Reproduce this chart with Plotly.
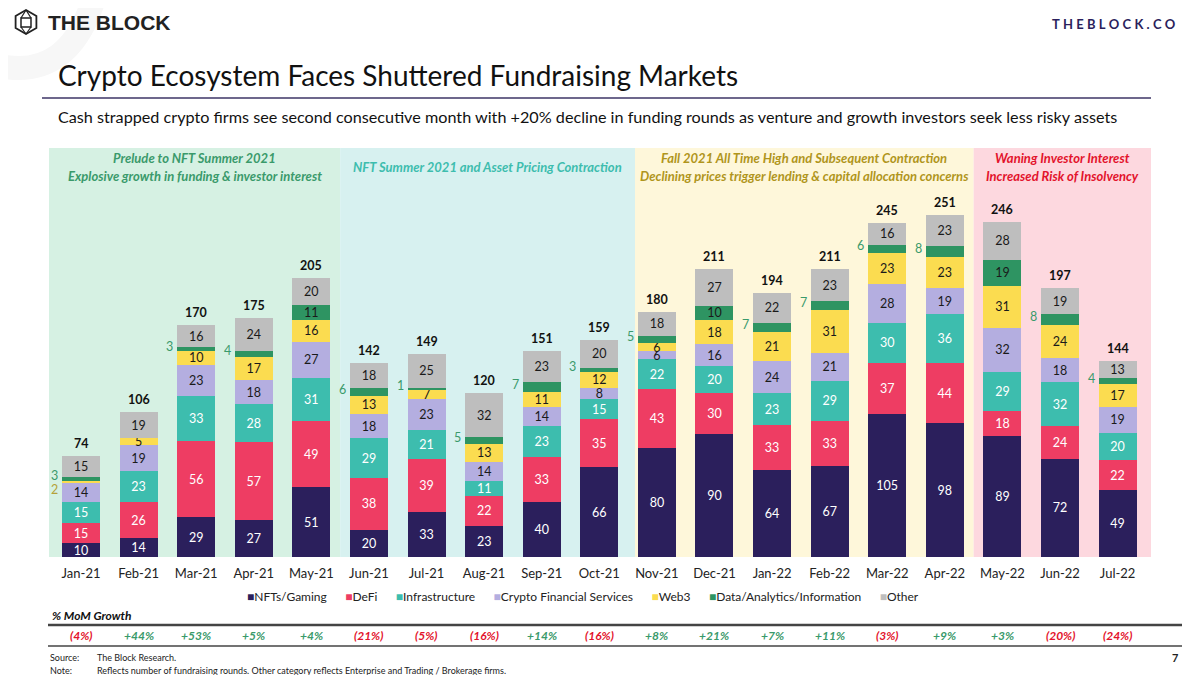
import plotly.graph_objects as go

months = ["Jan-21", "Feb-21", "Mar-21", "Apr-21", "May-21", "Jun-21", "Jul-21", "Aug-21", "Sep-21", "Oct-21",
          "Nov-21", "Dec-21", "Jan-22", "Feb-22", "Mar-22", "Apr-22", "May-22", "Jun-22", "Jul-22"]
nfts = [10, 14, 29, 27, 51, 20, 33, 23, 40, 66, 80, 90, 64, 67, 105, 98, 89, 72, 49]
defi = [15, 26, 56, 57, 49, 38, 39, 22, 33, 35, 43, 30, 33, 33, 37, 44, 18, 24, 22]
infra = [15, 23, 33, 28, 31, 29, 21, 11, 23, 15, 22, 20, 23, 29, 30, 36, 29, 32, 20]
cfs = [14, 19, 23, 18, 27, 18, 23, 14, 14, 8, 6, 16, 24, 21, 28, 19, 32, 18, 19]
web3 = [2, 5, 10, 17, 16, 13, 7, 13, 11, 12, 6, 18, 21, 31, 23, 23, 31, 24, 17]
data = [3, 0, 3, 4, 11, 6, 1, 5, 7, 3, 5, 10, 7, 7, 6, 8, 19, 8, 4]
other = [15, 19, 16, 24, 20, 18, 25, 32, 23, 20, 18, 27, 22, 23, 16, 23, 28, 19, 13]
mom_growth = [-4, 44, 53, 5, 4, -21, -5, -16, 14, -16, 8, 21, 7, 11, -3, 9, 3, -20, -24]

series = [
    ("NFTs/Gaming", nfts, "#2B1F5C", "white"),
    ("DeFi", defi, "#EE3D63", "white"),
    ("Infrastructure", infra, "#3DBDAE", "white"),
    ("Crypto Financial Services", cfs, "#B4AEE0", "#1a1a1a"),
    ("Web3", web3, "#FBDC50", "#1a1a1a"),
    ("Data/Analytics/Information", data, "#2E9462", "#1a1a1a"),
    ("Other", other, "#BEBEBE", "#1a1a1a"),
]

# period panels: (start, end, title lines, background, text colour)
periods = [
    (-0.556, 4.5, ["Prelude to NFT Summer 2021", "Explosive growth in funding & investor interest"], "#D6F1E3", "#3A9A6B"),
    (4.5, 9.62, ["NFT Summer 2021 and Asset Pricing Contraction"], "#D7F1F0", "#3DBDAE"),
    (9.62, 15.5, ["Fall 2021 All Time High and Subsequent Contraction",
                  "Declining prices trigger lending & capital allocation concerns"], "#FEF7DA", "#B0951C"),
    (15.5, 18.58, ["Waning Investor Interest", "Increased Risk of Insolvency"], "#FDD8DF", "#E3132C"),
]

FONT = "Lato"
OFF = 8  # page body margin
W, H = 1200, 675
L, R, T, B = 49, 1151, 148, 557


def px(x):
    return (x - L) / (R - L)


def py(y):
    return (B - y) / (B - T)


def note(x, y, text, size, color="#111", xanchor="left", family=FONT):
    return dict(x=px(x), y=py(y), xref="paper", yref="paper", xanchor=xanchor, yanchor="middle",
                showarrow=False, text=text, font=dict(family=family, size=size, color=color))


fig = go.Figure()

shapes = []
annotations = []

# faint swoosh behind the logo
shapes.append(dict(type="path", xref="paper", yref="paper", layer="below",
                   path="M %f,%f Q %f,%f %f,%f" % (px(95), py(-5), px(70), py(80), px(0), py(66)),
                   line=dict(color="#F7F7F7", width=24)))

for x0, x1, lines, bg, tc in periods:
    shapes.append(dict(type="rect", xref="x", yref="paper", x0=x0, x1=x1, y0=0, y1=1,
                       fillcolor=bg, line=dict(width=0), layer="below"))
    mid = (x0 + x1) / 2
    ys = [py(158), py(176)] if len(lines) == 2 else [py(167)]
    for txt, yy in zip(lines, ys):
        annotations.append(dict(x=mid, y=yy, xref="x", yref="paper", text="<b><i>" + txt + "</i></b>",
                                showarrow=False, xanchor="center", yanchor="middle",
                                font=dict(family=FONT, size=13, color=tc)))

base = [0] * len(months)
for name, vals, col, tcol in series:
    texts = []
    for i, v in enumerate(vals):
        outside = (name == "Data/Analytics/Information" and v < 10) or (name == "Web3" and v < 3)
        if outside or v == 0:
            texts.append("")
            if v > 0:
                is_data = name == "Data/Analytics/Information"
                lc = "#3A9A6B" if is_data else "#B5A23A"
                annotations.append(dict(x=months[i], y=base[i] + v / 2, xref="x", yref="y", text=str(v),
                                        showarrow=False, xanchor="right", yanchor="middle", xshift=-21,
                                        yshift=3 if is_data else -7,
                                        font=dict(family=FONT, size=12.5, color=lc)))
        else:
            texts.append(str(v))
    fig.add_trace(go.Bar(x=months, y=vals, name=name, marker=dict(color=col, line=dict(width=0)),
                         text=texts, textposition="inside", insidetextanchor="middle", textangle=0,
                         textfont=dict(family=FONT, size=12.5, color=tcol), hoverinfo="skip",
                         showlegend=False))
    base = [b + v for b, v in zip(base, vals)]

for m, t in zip(months, base):
    annotations.append(dict(x=m, y=t, xref="x", yref="y", text="<b>%d</b>" % t, showarrow=False,
                            xanchor="center", yanchor="bottom", yshift=3,
                            font=dict(family=FONT, size=12.5, color="#111")))

# legend line built from the series names and colours
gap = "\u00a0" * 6
legend_txt = "".join("<span style='color:%s'>%s■</span>%s" % (c, gap if k else "", n)
                     for k, (n, _, c, _) in enumerate(series))
annotations.append(note(583, 596, legend_txt, 12, "#222", xanchor="center"))

# MoM growth row
for m, g in zip(months, mom_growth):
    txt = "(%d%%)" % abs(g) if g < 0 else "+%d%%" % g
    col = "#E3132C" if g < 0 else "#3A9A6B"
    annotations.append(dict(x=m, y=py(635), xref="x", yref="paper", text="<b><i>" + txt + "</i></b>",
                            showarrow=False, xanchor="center", yanchor="middle",
                            font=dict(family=FONT, size=12, color=col)))

annotations += [
    note(50, 615, "<b><i>% MoM Growth</i></b>", 12),
    note(48, 657, "Source:", 9, "#222"),
    note(95, 657, "The Block Research.", 9, "#222"),
    note(48, 670, "Note:", 9, "#222"),
    note(95, 670, "Reflects number of fundraising rounds. Other category reflects Enterprise and Trading / Brokerage firms.",
         9, "#222"),
    note(1180, 657, "<b>7</b>", 11, "#222", xanchor="right"),
    note(56, 75, "Crypto Ecosystem Faces Shuttered Fundraising Markets", 28),
    note(56, 116, "Cash strapped crypto firms see second consecutive month with +20% decline in funding rounds as venture and growth investors seek less risky assets",
         16.2),
    note(46, 22, "<b>THE BLOCK</b>", 21, "#222", family="Liberation Sans"),
    note(1178, 24, "<b>" + "\u2005".join("THEBLOCK.CO") + "</b>", 13, "#2B1F5C", xanchor="right"),
]

# rules
shapes += [
    dict(type="line", xref="paper", yref="paper", x0=px(42), x1=px(1151), y0=py(98), y1=py(98),
         line=dict(color="#3D3566", width=1.5)),
    dict(type="line", xref="paper", yref="paper", x0=px(48), x1=px(1182), y0=py(625), y1=py(625),
         line=dict(color="#444", width=2.5)),
    dict(type="line", xref="paper", yref="paper", x0=px(48), x1=px(1182), y0=py(646), y1=py(646),
         line=dict(color="#444", width=1.5)),
]

# logo hexagon
cx, cy, r = 26, 22, 12
hexpts = [(cx, cy - r), (cx + 10.4, cy - 6), (cx + 10.4, cy + 6), (cx, cy + r), (cx - 10.4, cy + 6), (cx - 10.4, cy - 6)]
path = "M " + " L ".join("%f,%f" % (px(a), py(b)) for a, b in hexpts) + " Z"
shapes.append(dict(type="path", xref="paper", yref="paper", path=path, line=dict(color="#222", width=1.8)))
inner = [(cx - 5, cy - 4), (cx + 5, cy - 4), (cx + 5, cy + 5), (cx - 5, cy + 5)]
path2 = "M " + " L ".join("%f,%f" % (px(a), py(b)) for a, b in inner) + " Z"
shapes.append(dict(type="path", xref="paper", yref="paper", path=path2, line=dict(color="#222", width=1.5)))
for (a, b), (c, d) in [((cx, cy - r), (cx - 5, cy - 4)), ((cx, cy - r), (cx + 5, cy - 4)),
                       ((cx, cy + r), (cx - 5, cy + 5)), ((cx, cy + r), (cx + 5, cy + 5))]:
    shapes.append(dict(type="line", xref="paper", yref="paper", x0=px(a), y0=py(b), x1=px(c), y1=py(d),
                       line=dict(color="#222", width=1.2)))

fig.update_layout(
    width=W - OFF, height=H - OFF,
    margin=dict(l=L - OFF, r=W - R, t=T - OFF, b=H - B),
    paper_bgcolor="white", plot_bgcolor="rgba(0,0,0,0)",
    barmode="stack", bargap=0.34,
    uniformtext=dict(minsize=12.5, mode="show"),
    showlegend=False,
    xaxis=dict(type="category", range=[-0.556, 18.58], showgrid=False, showline=False, ticks="",
               ticklabelstandoff=7, tickfont=dict(family=FONT, size=13, color="#222"), fixedrange=True),
    yaxis=dict(range=[0, 300], visible=False, showgrid=False, fixedrange=True),
    shapes=shapes, annotations=annotations,
    font=dict(family=FONT),
)

fig.write_html("out.html")
